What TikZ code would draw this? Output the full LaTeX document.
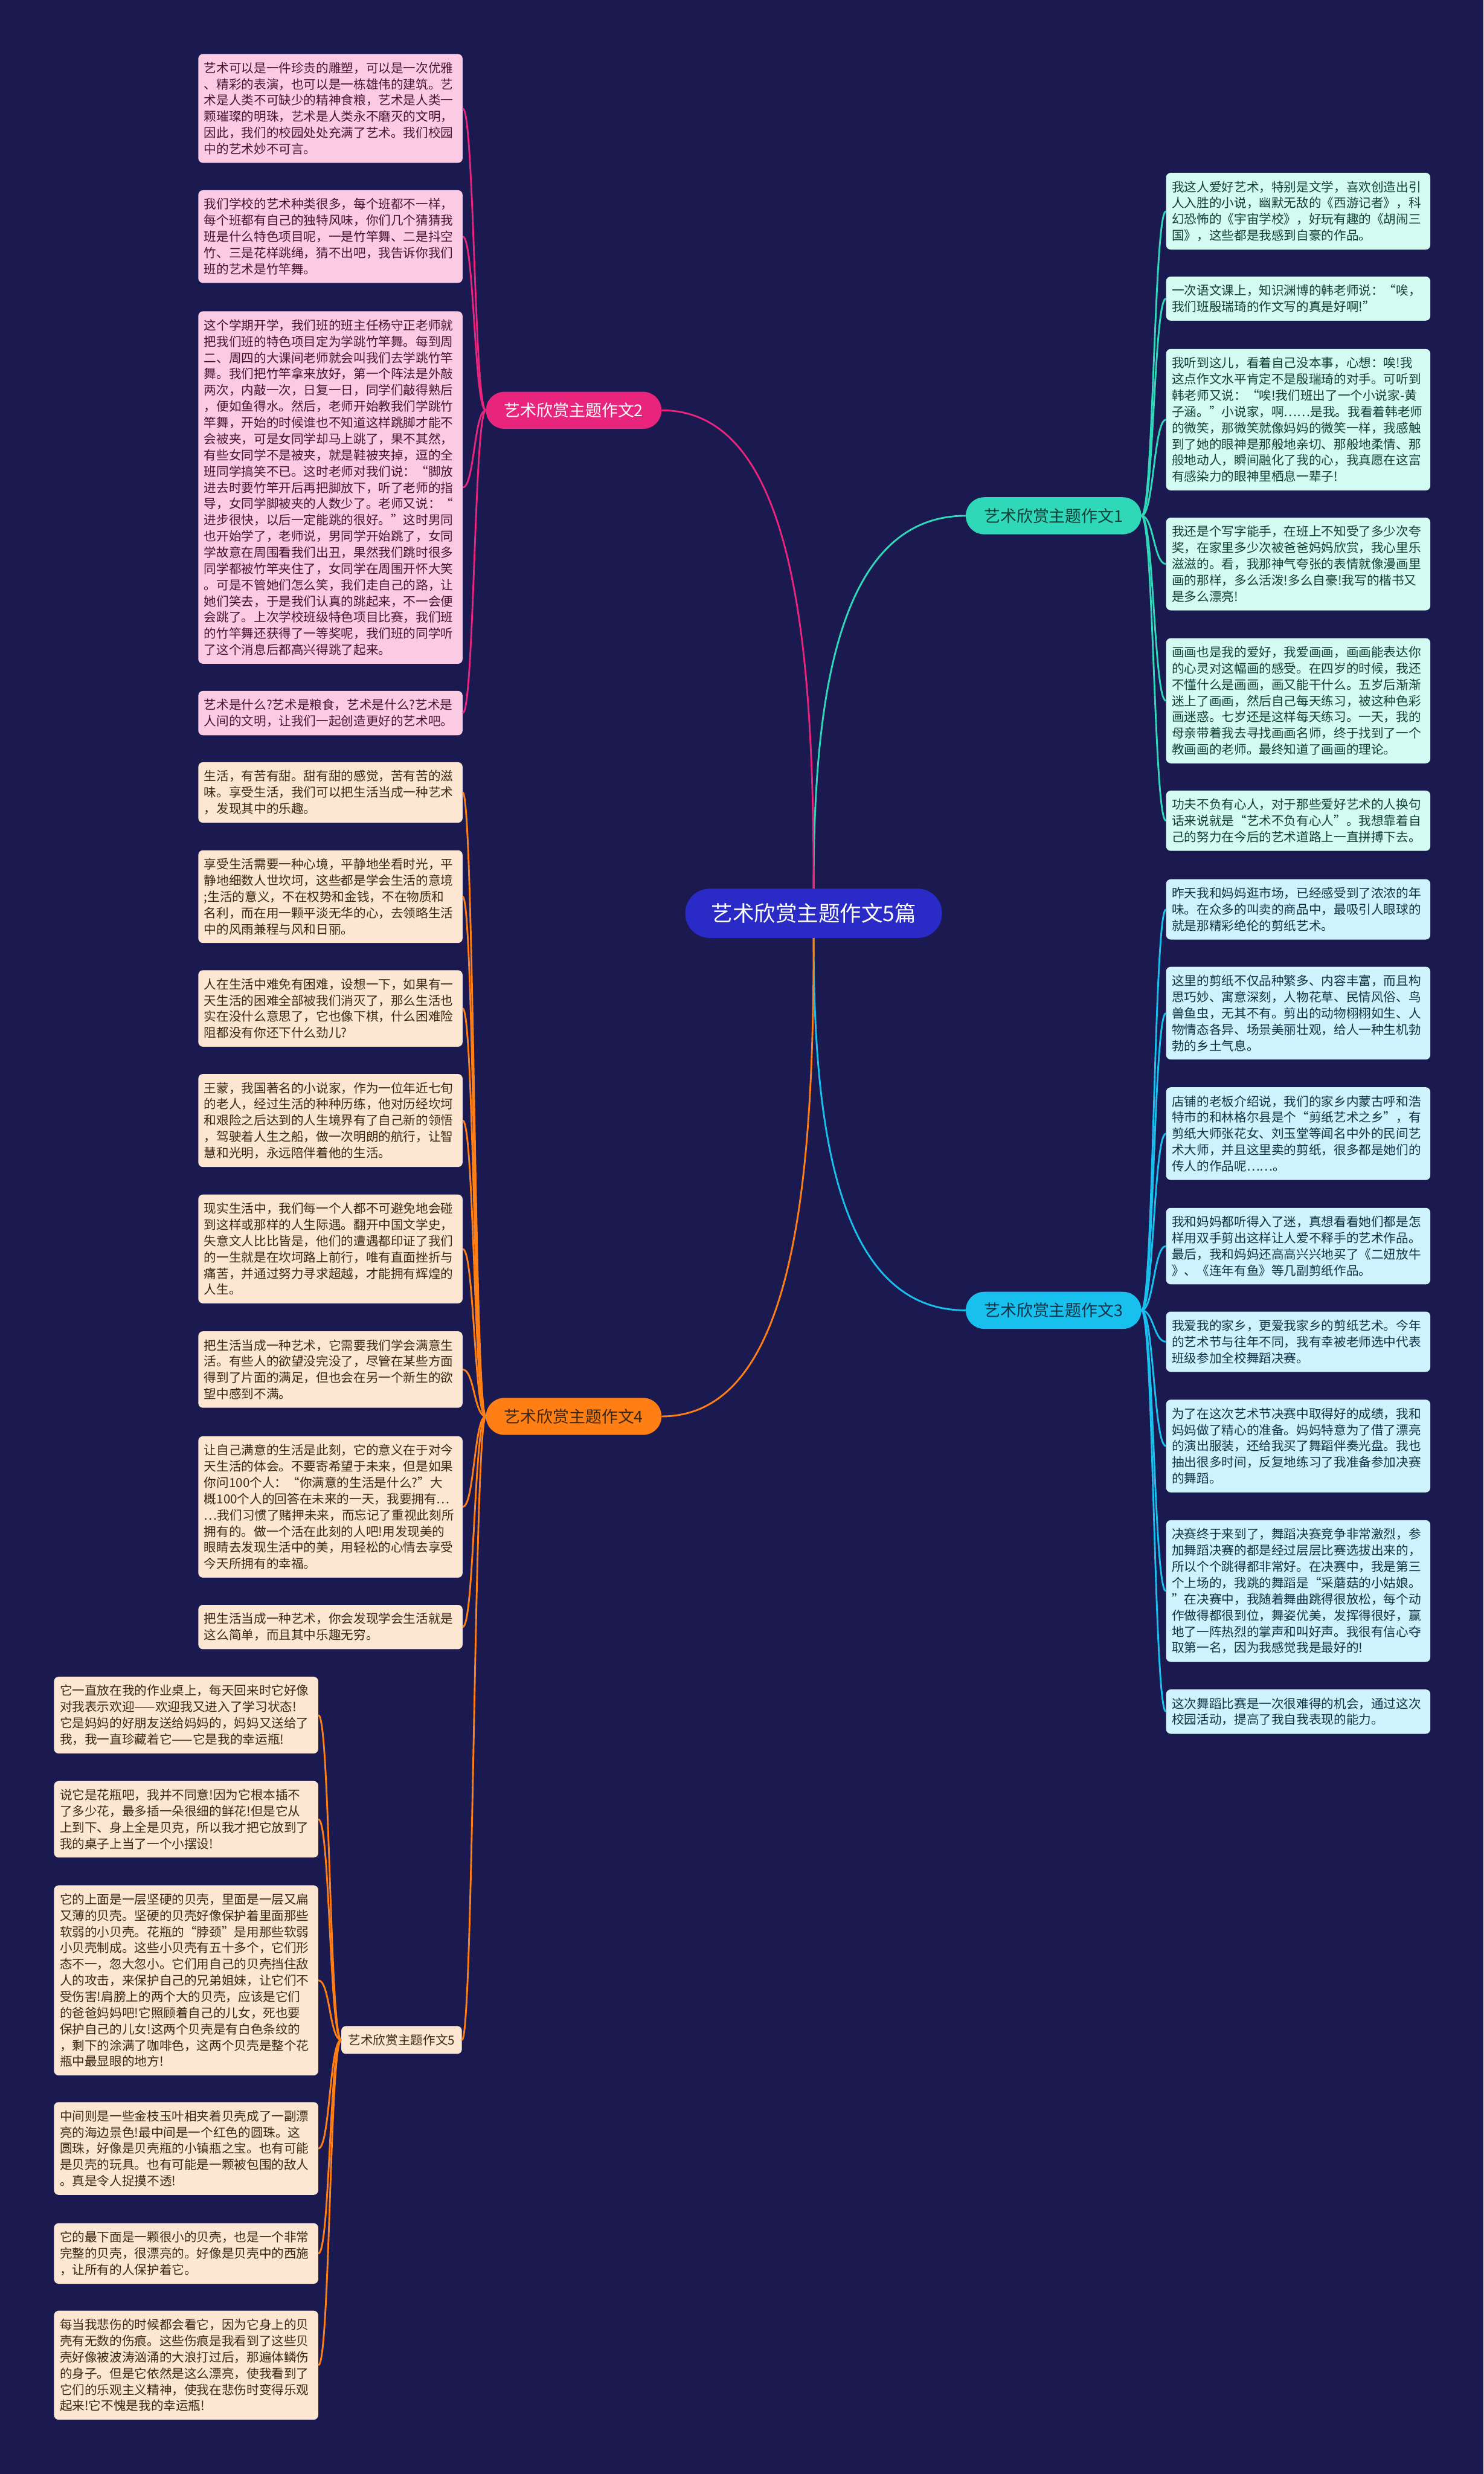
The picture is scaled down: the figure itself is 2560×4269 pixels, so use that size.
\documentclass[tikz,border=0pt]{standalone}
\usepackage{fontspec}
\setmainfont{Noto Sans CJK SC}

\definecolor{bgcol}{HTML}{1A1950}
\definecolor{rootfill}{HTML}{2A2AC6}
\definecolor{tealline}{HTML}{2ED8B8}
\definecolor{pinkline}{HTML}{E8247C}
\definecolor{cyanline}{HTML}{18C0EE}
\definecolor{orangeline}{HTML}{FF7F14}
\definecolor{pinkfill}{HTML}{FBCBE3}
\definecolor{pinktext}{HTML}{4A1232}
\definecolor{greenfill}{HTML}{D3FBF1}
\definecolor{greentext}{HTML}{0F3F36}
\definecolor{cyanfill}{HTML}{CFF3FC}
\definecolor{cyantext}{HTML}{0D3347}
\definecolor{peachfill}{HTML}{FDE7D2}
\definecolor{peachtext}{HTML}{3D2711}

\tikzset{
  leaf/.style={rounded corners=8pt, align=left, text width=436pt, inner xsep=10pt, inner ysep=14pt,
    font=\fontsize{21.5}{28}\selectfont, anchor=north west},
  leafpink/.style={leaf, fill=pinkfill, text=pinktext},
  leafgreen/.style={leaf, fill=greenfill, text=greentext},
  leafcyan/.style={leaf, fill=cyanfill, text=cyantext},
  leafpeach/.style={leaf, fill=peachfill, text=peachtext},
  branch/.style={rounded corners=32pt, minimum width=303pt, minimum height=64pt, inner sep=0pt,
    font=\fontsize{28}{32}\selectfont},
  con/.style={line width=3pt}
}

\begin{document}
\begin{tikzpicture}[x=1pt, y=-1pt]
  \fill[bgcol] (0,0) rectangle (2560,4269);

  % centre and main branches
  \node[fill=rootfill, text=white, rounded corners=42pt, minimum width=443pt, minimum height=85pt,
    font=\fontsize{37}{42}\selectfont] (root) at (1404,1576) {艺术欣赏主题作文5篇};
  \node[branch, fill=tealline, text=greentext] (b1) at (1818,890) {艺术欣赏主题作文1};
  \node[branch, fill=pinkline, text=white] (b2) at (990,708) {艺术欣赏主题作文2};
  \node[branch, fill=cyanline, text=cyantext] (b3) at (1818,2261) {艺术欣赏主题作文3};
  \node[branch, fill=orangeline, text=peachtext] (b4) at (990,2444) {艺术欣赏主题作文4};
  \node[fill=peachfill, text=peachtext, rounded corners=8pt, minimum width=208pt, minimum height=48pt,
    inner sep=0pt, font=\fontsize{21.5}{26}\selectfont] (b5) at (693,3520) {艺术欣赏主题作文5};

  % branch 2
  \node[leafpink] (p1) at (342,93) {艺术可以是一件珍贵的雕塑，可以是一次优雅\\
、精彩的表演，也可以是一栋雄伟的建筑。艺\\
术是人类不可缺少的精神食粮，艺术是人类一\\
颗璀璨的明珠，艺术是人类永不磨灭的文明，\\
因此，我们的校园处处充满了艺术。我们校园\\
中的艺术妙不可言。};
  \node[leafpink] (p2) at (342,328) {我们学校的艺术种类很多，每个班都不一样，\\
每个班都有自己的独特风味，你们几个猜猜我\\
班是什么特色项目呢，一是竹竿舞、二是抖空\\
竹、三是花样跳绳，猜不出吧，我告诉你我们\\
班的艺术是竹竿舞。};
  \node[leafpink] (p3) at (342,537) {这个学期开学，我们班的班主任杨守正老师就\\
把我们班的特色项目定为学跳竹竿舞。每到周\\
二、周四的大课间老师就会叫我们去学跳竹竿\\
舞。我们把竹竿拿来放好，第一个阵法是外敲\\
两次，内敲一次，日复一日，同学们敲得熟后\\
，便如鱼得水。然后，老师开始教我们学跳竹\\
竿舞，开始的时候谁也不知道这样跳脚才能不\\
会被夹，可是女同学却马上跳了，果不其然，\\
有些女同学不是被夹，就是鞋被夹掉，逗的全\\
班同学搞笑不已。这时老师对我们说：“脚放\\
进去时要竹竿开后再把脚放下，听了老师的指\\
导，女同学脚被夹的人数少了。老师又说：“\\
进步很快，以后一定能跳的很好。”这时男同\\
也开始学了，老师说，男同学开始跳了，女同\\
学故意在周围看我们出丑，果然我们跳时很多\\
同学都被竹竿夹住了，女同学在周围开怀大笑\\
。可是不管她们怎么笑，我们走自己的路，让\\
她们笑去，于是我们认真的跳起来，不一会便\\
会跳了。上次学校班级特色项目比赛，我们班\\
的竹竿舞还获得了一等奖呢，我们班的同学听\\
了这个消息后都高兴得跳了起来。};
  \node[leafpink] (p4) at (342,1192) {艺术是什么?艺术是粮食，艺术是什么?艺术是\\
人间的文明，让我们一起创造更好的艺术吧。};

  % branch 1
  \node[leafgreen] (g1) at (2012,298) {我这人爱好艺术，特别是文学，喜欢创造出引\\
人入胜的小说，幽默无敌的《西游记者》，科\\
幻恐怖的《宇宙学校》，好玩有趣的《胡闹三\\
国》，这些都是我感到自豪的作品。};
  \node[leafgreen] (g2) at (2012,477) {一次语文课上，知识渊博的韩老师说：“唉，\\
我们班殷瑞琦的作文写的真是好啊!”};
  \node[leafgreen] (g3) at (2012,602) {我听到这儿，看着自己没本事，心想：唉!我\\
这点作文水平肯定不是殷瑞琦的对手。可听到\\
韩老师又说：“唉!我们班出了一个小说家-黄\\
子涵。”小说家，啊……是我。我看着韩老师\\
的微笑，那微笑就像妈妈的微笑一样，我感触\\
到了她的眼神是那般地亲切、那般地柔情、那\\
般地动人，瞬间融化了我的心，我真愿在这富\\
有感染力的眼神里栖息一辈子!};
  \node[leafgreen] (g4) at (2012,893) {我还是个写字能手，在班上不知受了多少次夸\\
奖，在家里多少次被爸爸妈妈欣赏，我心里乐\\
滋滋的。看，我那神气夸张的表情就像漫画里\\
画的那样，多么活泼!多么自豪!我写的楷书又\\
是多么漂亮!};
  \node[leafgreen] (g5) at (2012,1101) {画画也是我的爱好，我爱画画，画画能表达你\\
的心灵对这幅画的感受。在四岁的时候，我还\\
不懂什么是画画，画又能干什么。五岁后渐渐\\
迷上了画画，然后自己每天练习，被这种色彩\\
画迷惑。七岁还是这样每天练习。一天，我的\\
母亲带着我去寻找画画名师，终于找到了一个\\
教画画的老师。最终知道了画画的理论。};
  \node[leafgreen] (g6) at (2012,1364) {功夫不负有心人，对于那些爱好艺术的人换句\\
话来说就是“艺术不负有心人”。我想靠着自\\
己的努力在今后的艺术道路上一直拼搏下去。};

  % branch 3
  \node[leafcyan] (c1) at (2012,1517) {昨天我和妈妈逛市场，已经感受到了浓浓的年\\
味。在众多的叫卖的商品中，最吸引人眼球的\\
就是那精彩绝伦的剪纸艺术。};
  \node[leafcyan] (c2) at (2012,1668) {这里的剪纸不仅品种繁多、内容丰富，而且构\\
思巧妙、寓意深刻，人物花草、民情风俗、鸟\\
兽鱼虫，无其不有。剪出的动物栩栩如生、人\\
物情态各异、场景美丽壮观，给人一种生机勃\\
勃的乡土气息。};
  \node[leafcyan] (c3) at (2012,1876) {店铺的老板介绍说，我们的家乡内蒙古呼和浩\\
特市的和林格尔县是个“剪纸艺术之乡”，有\\
剪纸大师张花女、刘玉堂等闻名中外的民间艺\\
术大师，并且这里卖的剪纸，很多都是她们的\\
传人的作品呢……。};
  \node[leafcyan] (c4) at (2012,2084) {我和妈妈都听得入了迷，真想看看她们都是怎\\
样用双手剪出这样让人爱不释手的艺术作品。\\
最后，我和妈妈还高高兴兴地买了《二妞放牛\\
》、《连年有鱼》等几副剪纸作品。};
  \node[leafcyan] (c5) at (2012,2263) {我爱我的家乡，更爱我家乡的剪纸艺术。今年\\
的艺术节与往年不同，我有幸被老师选中代表\\
班级参加全校舞蹈决赛。};
  \node[leafcyan] (c6) at (2012,2415) {为了在这次艺术节决赛中取得好的成绩，我和\\
妈妈做了精心的准备。妈妈特意为了借了漂亮\\
的演出服装，还给我买了舞蹈伴奏光盘。我也\\
抽出很多时间，反复地练习了我准备参加决赛\\
的舞蹈。};
  \node[leafcyan] (c7) at (2012,2623) {决赛终于来到了，舞蹈决赛竞争非常激烈，参\\
加舞蹈决赛的都是经过层层比赛选拔出来的，\\
所以个个跳得都非常好。在决赛中，我是第三\\
个上场的，我跳的舞蹈是“采蘑菇的小姑娘。\\
”在决赛中，我随着舞曲跳得很放松，每个动\\
作做得都很到位，舞姿优美，发挥得很好，赢\\
地了一阵热烈的掌声和叫好声。我很有信心夺\\
取第一名，因为我感觉我是最好的!};
  \node[leafcyan] (c8) at (2012,2915) {这次舞蹈比赛是一次很难得的机会，通过这次\\
校园活动，提高了我自我表现的能力。};

  % branch 4
  \node[leafpeach] (o1) at (342,1315) {生活，有苦有甜。甜有甜的感觉，苦有苦的滋\\
味。享受生活，我们可以把生活当成一种艺术\\
，发现其中的乐趣。};
  \node[leafpeach] (o2) at (342,1467) {享受生活需要一种心境，平静地坐看时光，平\\
静地细数人世坎坷，这些都是学会生活的意境\\
;生活的意义，不在权势和金钱，不在物质和\\
名利，而在用一颗平淡无华的心，去领略生活\\
中的风雨兼程与风和日丽。};
  \node[leafpeach] (o3) at (342,1674) {人在生活中难免有困难，设想一下，如果有一\\
天生活的困难全部被我们消灭了，那么生活也\\
实在没什么意思了，它也像下棋，什么困难险\\
阻都没有你还下什么劲儿?};
  \node[leafpeach] (o4) at (342,1853) {王蒙，我国著名的小说家，作为一位年近七旬\\
的老人，经过生活的种种历练，他对历经坎坷\\
和艰险之后达到的人生境界有了自己新的领悟\\
，驾驶着人生之船，做一次明朗的航行，让智\\
慧和光明，永远陪伴着他的生活。};
  \node[leafpeach] (o5) at (342,2061) {现实生活中，我们每一个人都不可避免地会碰\\
到这样或那样的人生际遇。翻开中国文学史，\\
失意文人比比皆是，他们的遭遇都印证了我们\\
的一生就是在坎坷路上前行，唯有直面挫折与\\
痛苦，并通过努力寻求超越，才能拥有辉煌的\\
人生。};
  \node[leafpeach] (o6) at (342,2297) {把生活当成一种艺术，它需要我们学会满意生\\
活。有些人的欲望没完没了，尽管在某些方面\\
得到了片面的满足，但也会在另一个新生的欲\\
望中感到不满。};
  \node[leafpeach] (o7) at (342,2478) {让自己满意的生活是此刻，它的意义在于对今\\
天生活的体会。不要寄希望于未来，但是如果\\
你问100个人：“你满意的生活是什么?”大\\
概100个人的回答在未来的一天，我要拥有…\\
…我们习惯了赌押未来，而忘记了重视此刻所\\
拥有的。做一个活在此刻的人吧!用发现美的\\
眼睛去发现生活中的美，用轻松的心情去享受\\
今天所拥有的幸福。};
  \node[leafpeach] (o8) at (342,2769) {把生活当成一种艺术，你会发现学会生活就是\\
这么简单，而且其中乐趣无穷。};

  % branch 5
  \node[leafpeach] (f1) at (93,2893) {它一直放在我的作业桌上，每天回来时它好像\\
对我表示欢迎——欢迎我又进入了学习状态!\\
它是妈妈的好朋友送给妈妈的，妈妈又送给了\\
我，我一直珍藏着它——它是我的幸运瓶!};
  \node[leafpeach] (f2) at (93,3073) {说它是花瓶吧，我并不同意!因为它根本插不\\
了多少花，最多插一朵很细的鲜花!但是它从\\
上到下、身上全是贝克，所以我才把它放到了\\
我的桌子上当了一个小摆设!};
  \node[leafpeach] (f3) at (93,3253) {它的上面是一层坚硬的贝壳，里面是一层又扁\\
又薄的贝壳。坚硬的贝壳好像保护着里面那些\\
软弱的小贝壳。花瓶的“脖颈”是用那些软弱\\
小贝壳制成。这些小贝壳有五十多个，它们形\\
态不一，忽大忽小。它们用自己的贝壳挡住敌\\
人的攻击，来保护自己的兄弟姐妹，让它们不\\
受伤害!肩膀上的两个大的贝壳，应该是它们\\
的爸爸妈妈吧!它照顾着自己的儿女，死也要\\
保护自己的儿女!这两个贝壳是有白色条纹的\\
，剩下的涂满了咖啡色，这两个贝壳是整个花\\
瓶中最显眼的地方!};
  \node[leafpeach] (f4) at (93,3627) {中间则是一些金枝玉叶相夹着贝壳成了一副漂\\
亮的海边景色!最中间是一个红色的圆珠。这\\
圆珠，好像是贝壳瓶的小镇瓶之宝。也有可能\\
是贝壳的玩具。也有可能是一颗被包围的敌人\\
。真是令人捉摸不透!};
  \node[leafpeach] (f5) at (93,3836) {它的最下面是一颗很小的贝壳，也是一个非常\\
完整的贝壳，很漂亮的。好像是贝壳中的西施\\
，让所有的人保护着它。};
  \node[leafpeach] (f6) at (93,3987) {每当我悲伤的时候都会看它，因为它身上的贝\\
壳有无数的伤痕。这些伤痕是我看到了这些贝\\
壳好像被波涛汹涌的大浪打过后，那遍体鳞伤\\
的身子。但是它依然是这么漂亮，使我看到了\\
它们的乐观主义精神，使我在悲伤时变得乐观\\
起来!它不愧是我的幸运瓶!};

  % connectors
  \draw[con, tealline] (root.north) .. controls +(0,-300) and +(-230,0) .. (b1.west);
  \draw[con, pinkline] (root.north) .. controls +(0,-420) and +(230,0) .. (b2.east);
  \draw[con, cyanline] (root.south) .. controls +(0,300) and +(-230,0) .. (b3.west);
  \draw[con, orangeline] (root.south) .. controls +(0,420) and +(230,0) .. (b4.east);
  \foreach \n in {g1,g2,g3,g4,g5,g6}
    \draw[con, tealline] (b1.east) .. controls +(21,0) and +(-21,0) .. (\n.west);
  \foreach \n in {p1,p2,p3,p4}
    \draw[con, pinkline] (b2.west) .. controls +(-20,0) and +(20,0) .. (\n.east);
  \foreach \n in {c1,c2,c3,c4,c5,c6,c7,c8}
    \draw[con, cyanline] (b3.east) .. controls +(21,0) and +(-21,0) .. (\n.west);
  \foreach \n in {o1,o2,o3,o4,o5,o6,o7,o8,b5}
    \draw[con, orangeline] (b4.west) .. controls +(-20,0) and +(20,0) .. (\n.east);
  \foreach \n in {f1,f2,f3,f4,f5,f6}
    \draw[con, orangeline] (b5.west) .. controls +(-20,0) and +(20,0) .. (\n.east);
\end{tikzpicture}
\end{document}
